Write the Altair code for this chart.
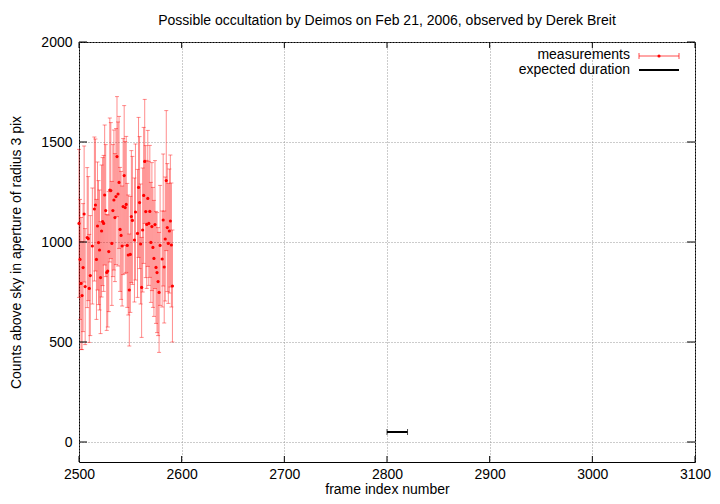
import altair as alt
import pandas as pd

frames = [2500, 2501, 2502, 2503, 2504, 2505, 2506, 2508, 2509, 2510, 2511, 2513,
          2515, 2516, 2517, 2518, 2519, 2520, 2521, 2522, 2523, 2524,
          2525, 2526, 2527, 2528, 2529, 2530, 2531, 2532, 2533, 2534,
          2535, 2536, 2537, 2538, 2539, 2540, 2541, 2542, 2543, 2544,
          2545, 2546, 2547, 2548, 2549, 2550, 2551, 2552, 2554, 2555,
          2557, 2558, 2559, 2560, 2561, 2562, 2563, 2564, 2565, 2566,
          2567, 2568, 2569, 2570, 2571, 2572, 2573, 2574, 2575, 2576,
          2577, 2578, 2579, 2581, 2582, 2583, 2584, 2585, 2586, 2587,
          2588, 2589, 2590, 2591]
counts = [1093, 913, 793, 732, 872, 1140, 777, 1022, 1017, 768, 832, 980,
          1165, 1185, 913, 1080, 997, 960, 822, 1055, 1102, 1093,
          1235, 1157, 848, 855, 952, 1260, 1257, 993, 1157, 1210,
          1122, 1227, 1427, 1240, 1298, 1063, 1033, 980, 1177, 1332,
          1172, 1188, 983, 935, 760, 938, 1127, 1108, 1010, 1150,
          1043, 1273, 1197, 990, 773, 1060, 1233, 1403, 1152, 1088,
          1218, 1093, 1153, 998, 1077, 973, 918, 1087, 873, 847,
          802, 748, 983, 915, 1110, 875, 1015, 1307, 1072, 993,
          1055, 1105, 985, 780]
errors = [370, 300, 330, 270, 320, 340, 290, 350, 310, 270, 300, 290,
          360, 330, 300, 320, 310, 300, 280, 330, 320, 340,
          350, 330, 290, 280, 300, 360, 340, 310, 330, 350,
          320, 340, 300, 360, 330, 310, 320, 300, 340, 350,
          330, 340, 310, 300, 280, 290, 330, 320, 310, 340,
          320, 350, 330, 300, 250, 310, 340, 310, 330, 320,
          340, 310, 330, 300, 320, 300, 290, 320, 280, 300,
          270, 300, 300, 240, 330, 280, 310, 350, 320, 300,
          310, 330, 310, 280]

expected_start = [2800]
expected_end = [2820]
expected_level = [50]

x_ticks = [2500, 2600, 2700, 2800, 2900, 3000, 3100]
y_ticks = [0, 500, 1000, 1500, 2000]

W, H = 616, 420
FONT = "Liberation Sans"
FS = 14
RED = "#ff0000"

df = pd.DataFrame({"frame": frames, "counts": counts, "err": errors})
df["lo"] = df["counts"] - df["err"]
df["hi"] = df["counts"] + df["err"]

exp_df = pd.DataFrame({"start": expected_start, "end": expected_end, "level": expected_level})

xs = alt.Scale(domain=[2500, 3100], nice=False, zero=False)
ys = alt.Scale(domain=[-100, 2000], nice=False, zero=False)

common = dict(grid=True, ticks=False, domain=False, labelFlush=False, labelOverlap=False,
              labelFont=FONT, titleFont=FONT, labelFontSize=FS, titleFontSize=FS,
              titleFontWeight="normal", labelColor="black", titleColor="black",
              gridColor="#999999", gridDash=[1, 2], gridWidth=1, format="d")
xaxis = alt.Axis(values=x_ticks, labelPadding=5, title="frame index number", titlePadding=1, **common)
yaxis = alt.Axis(values=y_ticks, labelPadding=7,
                 title="Counts above sky in aperture of radius 3 pix", titlePadding=17, **common)

base = alt.Chart(df)

bars = base.mark_rule(color=RED, opacity=0.45, strokeWidth=1).encode(
    x=alt.X("frame:Q", scale=xs, axis=xaxis),
    y=alt.Y("lo:Q", scale=ys, axis=yaxis),
    y2="hi:Q",
)
cap_lo = base.mark_tick(color=RED, opacity=0.45, orient="horizontal", size=4, thickness=1).encode(
    x=alt.X("frame:Q", scale=xs), y=alt.Y("lo:Q", scale=ys))
cap_hi = base.mark_tick(color=RED, opacity=0.45, orient="horizontal", size=4, thickness=1).encode(
    x=alt.X("frame:Q", scale=xs), y=alt.Y("hi:Q", scale=ys))
points = base.mark_point(color=RED, filled=True, shape="circle", size=10, opacity=1).encode(
    x=alt.X("frame:Q", scale=xs), y=alt.Y("counts:Q", scale=ys))

exp_base = alt.Chart(exp_df)
exp_line = exp_base.mark_rule(color="black", strokeWidth=2).encode(
    x=alt.X("start:Q", scale=xs), x2="end:Q", y=alt.Y("level:Q", scale=ys))
exp_cap1 = exp_base.mark_tick(color="black", orient="vertical", size=6, thickness=1).encode(
    x=alt.X("start:Q", scale=xs), y=alt.Y("level:Q", scale=ys))
exp_cap2 = exp_base.mark_tick(color="black", orient="vertical", size=6, thickness=1).encode(
    x=alt.X("end:Q", scale=xs), y=alt.Y("level:Q", scale=ys))

# inward ticks on all four borders
xt = alt.Chart(pd.DataFrame({"t": x_ticks}))
yt = alt.Chart(pd.DataFrame({"t": y_ticks}))
xtick_b = xt.mark_rule(color="black").encode(x=alt.X("t:Q", scale=xs), y=alt.value(H), y2=alt.value(H - 6))
xtick_t = xt.mark_rule(color="black").encode(x=alt.X("t:Q", scale=xs), y=alt.value(0), y2=alt.value(6))
ytick_l = yt.mark_rule(color="black").encode(y=alt.Y("t:Q", scale=ys), x=alt.value(0), x2=alt.value(8))
ytick_r = yt.mark_rule(color="black").encode(y=alt.Y("t:Q", scale=ys), x=alt.value(W), x2=alt.value(W - 8))

# legend
leg = alt.Chart(pd.DataFrame({"a": [0]}))
leg_t1 = leg.mark_text(align="right", baseline="middle", font=FONT, fontSize=FS).encode(
    x=alt.value(551), y=alt.value(13), text=alt.value("measurements"))
leg_t2 = leg.mark_text(align="right", baseline="middle", font=FONT, fontSize=FS).encode(
    x=alt.value(551), y=alt.value(28), text=alt.value("expected duration"))
leg_l1 = leg.mark_rule(color=RED, opacity=0.7).encode(x=alt.value(560), x2=alt.value(600), y=alt.value(14))
leg_c1a = leg.mark_rule(color=RED, opacity=0.7).encode(x=alt.value(560), y=alt.value(11), y2=alt.value(17))
leg_c1b = leg.mark_rule(color=RED, opacity=0.7).encode(x=alt.value(600), y=alt.value(11), y2=alt.value(17))
leg_p1 = leg.mark_point(color=RED, filled=True, shape="circle", size=10, opacity=1).encode(
    x=alt.value(580), y=alt.value(14))
leg_l2 = leg.mark_rule(color="black", strokeWidth=2).encode(x=alt.value(560), x2=alt.value(600), y=alt.value(28))

chart = alt.layer(
    bars, cap_lo, cap_hi, points,
    exp_line, exp_cap1, exp_cap2,
    xtick_b, xtick_t, ytick_l, ytick_r,
    leg_t1, leg_t2, leg_l1, leg_c1a, leg_c1b, leg_p1, leg_l2,
).properties(
    width=W, height=H,
    background="white",
    title=alt.TitleParams("Possible occultation by Deimos on Feb 21, 2006, observed by Derek Breit",
                          font=FONT, fontSize=FS, fontWeight="normal", anchor="middle",
                          frame="group", offset=7, color="black"),
    autosize=alt.AutoSizeParams(type="none"),
    padding={"left": 71, "top": 34, "right": 17, "bottom": 34},
).configure_view(
    stroke="black", strokeWidth=1,
)

chart.save("out.html", embed_options={"renderer": "svg", "actions": False})
